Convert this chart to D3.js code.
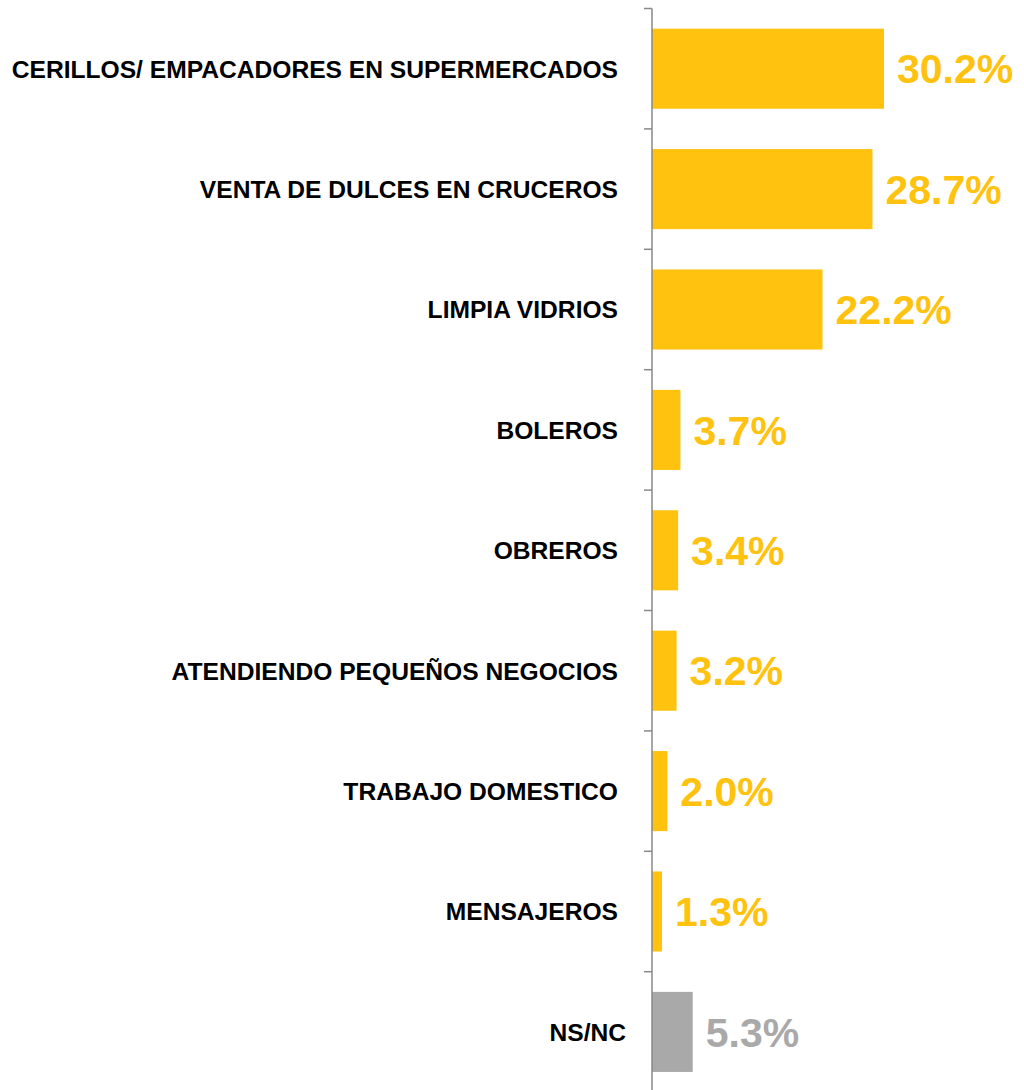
<!DOCTYPE html>
<html>
<head>
<meta charset="utf-8">
<script src="https://cdn.jsdelivr.net/npm/d3@7"></script>
<style>
  body { margin: 0; background: #fff; }
  svg { display: block; }
</style>
</head>
<body>
<div id="chart"></div>
<script>
// Data
const categories = [
  "CERILLOS/ EMPACADORES EN SUPERMERCADOS",
  "VENTA DE DULCES EN CRUCEROS",
  "LIMPIA VIDRIOS",
  "BOLEROS",
  "OBREROS",
  "ATENDIENDO PEQUEÑOS NEGOCIOS",
  "TRABAJO DOMESTICO",
  "MENSAJEROS",
  "NS/NC"
];
const values = [30.2, 28.7, 22.2, 3.7, 3.4, 3.2, 2.0, 1.3, 5.3];
const greyCategories = ["NS/NC"];

const width = 1024;
const height = 1090;
const axisX = 652;

const svg = d3.select("#chart")
  .append("svg")
  .attr("width", width)
  .attr("height", height);

// Scales
const data = categories.map((c, i) => ({ cat: c, val: values[i] }));

const y = d3.scaleBand()
  .domain(categories)
  .range([8.5, 8.5 + 9 * 120.4])
  .paddingInner(0.335)
  .paddingOuter(0.1675);

const x = d3.scaleLinear()
  .domain([0, 30.2])
  .range([axisX, 884]);

// Bars
svg.selectAll("rect.bar")
  .data(data)
  .join("rect")
  .attr("class", "bar")
  .attr("x", x(0))
  .attr("y", d => y(d.cat))
  .attr("width", d => x(d.val) - x(0))
  .attr("height", y.bandwidth())
  .attr("fill", d => greyCategories.includes(d.cat) ? "#a9a9a9" : "#ffc20e");

// Axis with ticks at band boundaries
const boundaries = categories.map(c => y(c) - y.step() * y.paddingInner() / 2);
svg.append("line")
  .attr("x1", axisX).attr("x2", axisX)
  .attr("y1", boundaries[0]).attr("y2", height)
  .attr("stroke", "#898989")
  .attr("stroke-width", 1.5);
svg.selectAll("line.tick")
  .data(boundaries)
  .join("line")
  .attr("class", "tick")
  .attr("x1", axisX - 8).attr("x2", axisX)
  .attr("y1", d => d).attr("y2", d => d)
  .attr("stroke", "#898989")
  .attr("stroke-width", 1.5);

// Category labels
svg.selectAll("text.cat")
  .data(data)
  .join("text")
  .attr("class", "cat")
  .attr("x", d => greyCategories.includes(d.cat) ? 626 : 618)
  .attr("y", d => y(d.cat) + y.bandwidth() / 2)
  .attr("dy", "0.36em")
  .attr("text-anchor", "end")
  .style("font-family", "Liberation Sans, Arial, sans-serif")
  .style("font-weight", "bold")
  .style("font-size", "24.6px")
  .attr("fill", "#000")
  .text(d => d.cat);

// Value labels
svg.selectAll("text.val")
  .data(data)
  .join("text")
  .attr("class", "val")
  .attr("x", d => x(d.val) + 13)
  .attr("y", d => y(d.cat) + y.bandwidth() / 2)
  .attr("dy", "0.36em")
  .style("font-family", "Liberation Sans, Arial, sans-serif")
  .style("font-weight", "bold")
  .style("font-size", "41px")
  .attr("fill", d => greyCategories.includes(d.cat) ? "#a9a9a9" : "#ffc20e")
  .text(d => d3.format(".1f")(d.val) + "%");
</script>
</body>
</html>
